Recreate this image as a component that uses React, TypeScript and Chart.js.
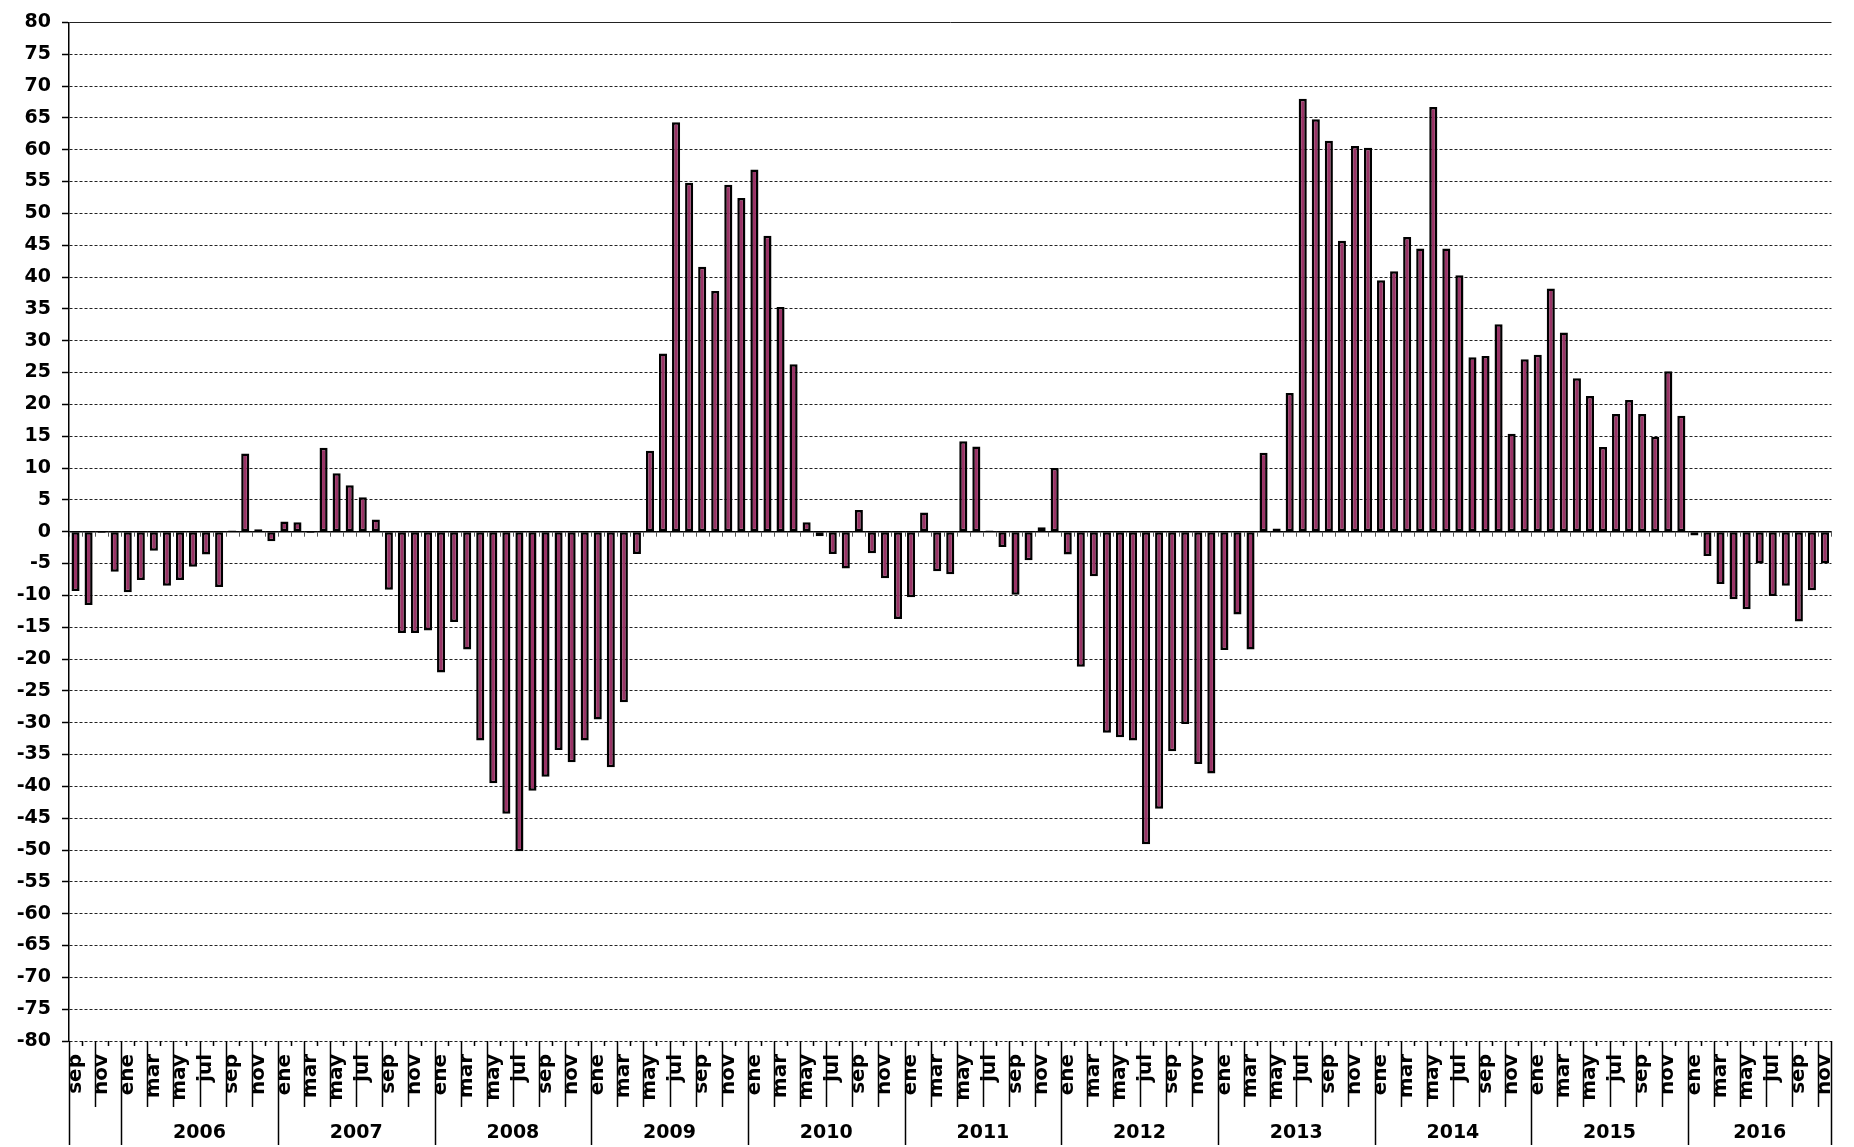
import React, { useEffect, useRef } from 'react';
import { Chart, registerables } from 'chart.js';

Chart.register(...registerables);

const W = 1854;
const H = 1147;

// Spanish month abbreviations
const monthNames = ['ene', 'feb', 'mar', 'abr', 'may', 'jun', 'jul', 'ago', 'sep', 'oct', 'nov', 'dic'];

// Series values by year (first year starts in September, last year ends in November)
const firstYear = 2005;
const firstMonth = 8; // sep
const v2005 = [-9.3, -11.5, -0.2, -6.3];
const v2006 = [-9.5, -7.6, -3.0, -8.5, -7.6, -5.5, -3.6, -8.7, 0.2, 12.3, 0.4, -1.5];
const v2007 = [1.6, 1.5, -0.2, 13.2, 9.2, 7.3, 5.4, 1.9, -9.1, -15.9, -15.9, -15.5];
const v2008 = [-22.1, -14.2, -18.5, -32.8, -39.5, -44.3, -50.2, -40.7, -38.5, -34.3, -36.2, -32.8];
const v2009 = [-29.5, -37.0, -26.8, -3.5, 12.7, 28.0, 64.3, 54.8, 41.6, 37.8, 54.5, 52.4];
const v2010 = [56.9, 46.5, 35.3, 26.3, 1.5, -0.7, -3.5, -5.8, 3.4, -3.4, -7.3, -13.7];
const v2011 = [-10.3, 3.0, -6.2, -6.7, 14.2, 13.4, 0.2, -2.4, -9.9, -4.5, 0.7, 10.0];
const v2012 = [-3.6, -21.2, -7.0, -31.6, -32.3, -32.8, -49.1, -43.5, -34.5, -30.2, -36.5, -38.0];
const v2013 = [-18.6, -13.0, -18.5, 12.4, 0.5, 21.8, 68.0, 64.8, 61.4, 45.7, 60.6, 60.3];
const v2014 = [39.5, 40.9, 46.3, 44.5, 66.7, 44.5, 40.3, 27.4, 27.6, 32.6, 15.4, 27.1];
const v2015 = [27.8, 38.2, 31.3, 24.1, 21.3, 13.3, 18.5, 20.7, 18.5, 14.9, 25.2, 18.2];
const v2016 = [-0.6, -3.8, -8.2, -10.6, -12.2, -5.0, -10.1, -8.5, -14.1, -9.2, -5.0];

const yearSeries = [v2005, v2006, v2007, v2008, v2009, v2010, v2011, v2012, v2013, v2014, v2015, v2016];

// Year labels shown under the axis (the partial first year has none)
const yearLabels = ['2006', '2007', '2008', '2009', '2010', '2011', '2012', '2013', '2014', '2015', '2016'];

// Y axis range / tick step
const yMin = -80;
const yMax = 80;
const yStep = 5;

// Build categories from the arrays above
const categories: string[] = [];
const catYear: string[] = [];
const values: number[] = [];
yearSeries.forEach((arr, yi) => {
  const start = yi === 0 ? firstMonth : 0;
  arr.forEach((v, k) => {
    categories.push(monthNames[start + k]);
    catYear.push(String(firstYear + yi));
    values.push(v);
  });
});

const BAR_COLOR = '#993366';
const FONT = '"DejaVu Sans", "Liberation Sans", Arial, sans-serif';

const excelAxis = {
  id: 'excelAxis',
  afterDatasetsDraw(chart: any) {
    const { ctx, chartArea: ca, scales } = chart;
    const x = scales.x;
    const y = scales.y;
    const n = categories.length;
    const step = x.getPixelForValue(1) - x.getPixelForValue(0);
    const edge = (i: number) =>
      i < n ? x.getPixelForValue(i) - step / 2 : x.getPixelForValue(n - 1) + step / 2;
    const y0 = y.getPixelForValue(0);
    ctx.save();
    ctx.strokeStyle = '#000';
    ctx.lineWidth = 1.5;
    ctx.beginPath();
    ctx.moveTo(ca.left, y0);
    ctx.lineTo(ca.right, y0);
    ctx.stroke();
    ctx.lineWidth = 1;
    ctx.strokeStyle = '#555';
    ctx.beginPath();
    for (let i = 0; i <= n; i++) {
      const bx = Math.round(edge(i)) + 0.5;
      ctx.moveTo(bx, y0);
      ctx.lineTo(bx, y0 + 5);
    }
    ctx.stroke();
    ctx.restore();
  },
  afterDraw(chart: any) {
    const { ctx, scales } = chart;
    const x = scales.x;
    const y = scales.y;
    const n = categories.length;
    const step = x.getPixelForValue(1) - x.getPixelForValue(0);
    const edge = (i: number) =>
      i < n ? x.getPixelForValue(i) - step / 2 : x.getPixelForValue(n - 1) + step / 2;
    const yb = y.getPixelForValue(yMin);
    ctx.save();
    ctx.strokeStyle = '#000';
    ctx.lineWidth = 1.5;
    ctx.beginPath();
    for (let i = 0; i <= n; i++) {
      const bx = Math.round(edge(i)) + 0.5;
      const isYear = i === 0 || i === n || categories[i] === monthNames[0];
      const len = isYear ? 104 : i % 2 === 0 ? 66 : 5;
      ctx.moveTo(bx, yb);
      ctx.lineTo(bx, yb + len);
    }
    ctx.stroke();
    // year labels
    ctx.fillStyle = '#000';
    ctx.font = 'bold 19px ' + FONT;
    ctx.textAlign = 'center';
    ctx.textBaseline = 'middle';
    yearLabels.forEach((yr) => {
      const first = catYear.indexOf(yr);
      const last = catYear.lastIndexOf(yr);
      if (first < 0) return;
      const cx = (edge(first) + edge(last + 1)) / 2;
      ctx.fillText(yr, cx, yb + 92);
    });
    ctx.restore();
  },
};

export default function App() {
  const ref = useRef<HTMLCanvasElement>(null);
  useEffect(() => {
    document.body.style.margin = '0';
    document.body.style.overflow = 'hidden';
    const chart = new Chart(ref.current as HTMLCanvasElement, {
      type: 'bar',
      data: {
        labels: categories,
        datasets: [
          {
            data: values,
            backgroundColor: BAR_COLOR,
            borderColor: '#000',
            borderWidth: 2.5,
            borderSkipped: false,
            barPercentage: 0.62,
            categoryPercentage: 1,
          },
        ],
      },
      options: {
        responsive: false,
        animation: false,
        layout: { padding: { top: 16, right: 12, left: 0, bottom: 0 } },
        plugins: { legend: { display: false }, tooltip: { enabled: false } },
        scales: {
          x: {
            grid: { display: false },
            border: { display: false },
            ticks: {
              autoSkip: false,
              maxRotation: 90,
              minRotation: 90,
              padding: 5,
              color: '#000',
              font: { family: FONT, size: 20, weight: 'bold' },
              callback: (_v: any, i: number) => (i % 2 === 0 ? categories[i] : ''),
            },
            afterFit: (s: any) => {
              s.height = 106;
            },
          },
          y: {
            min: yMin,
            max: yMax,
            ticks: {
              stepSize: yStep,
              padding: 11,
              color: '#000',
              font: { family: FONT, size: 19, weight: 'bold' },
            },
            grid: {
              color: '#222',
              lineWidth: 1,
              tickLength: 7,
              tickColor: '#000',
              tickWidth: 1.5,
            },
            border: {
              display: true,
              color: '#000',
              width: 1.5,
              dash: (c: any) => (c.tick && c.tick.value === yMax ? [] : [3, 2]),
            },
            afterFit: (s: any) => {
              s.width = 69;
            },
          },
        },
      } as any,
      plugins: [excelAxis],
    });
    return () => chart.destroy();
  }, []);
  return (
    <div style={{ position: 'absolute', left: 0, top: 0, width: W, height: H, background: '#fff' }}>
      <canvas ref={ref} width={W} height={H} style={{ width: W, height: H, display: 'block' }} />
    </div>
  );
}
